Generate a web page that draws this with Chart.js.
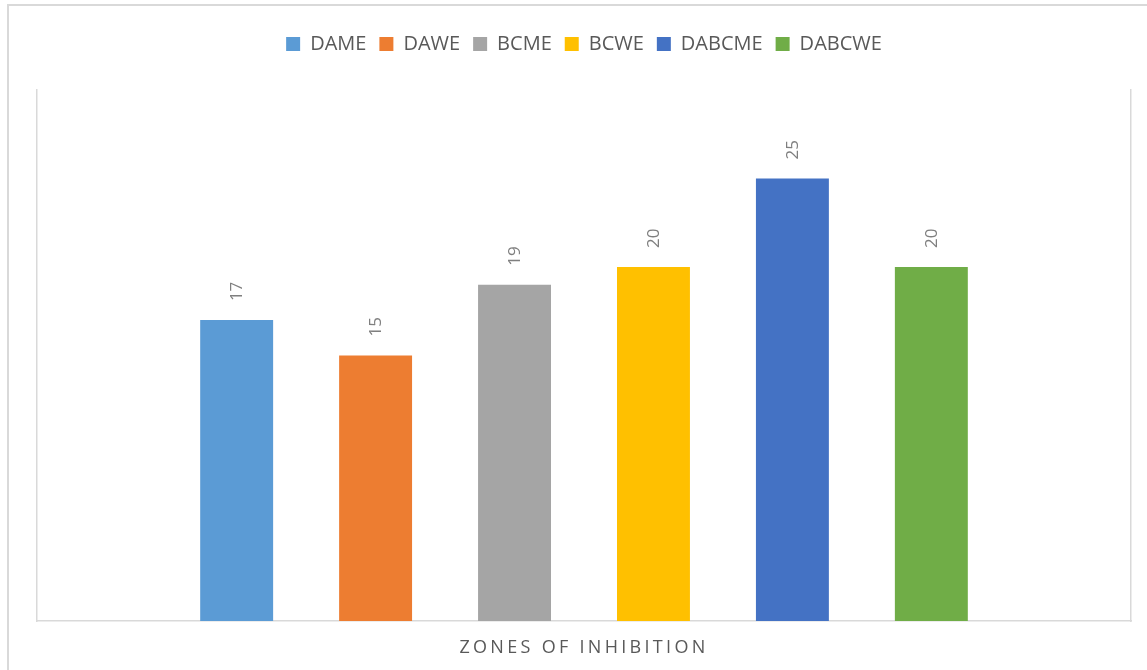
<!DOCTYPE html>
<html>
<head>
<meta charset="utf-8">
<script src="https://cdn.jsdelivr.net/npm/chart.js@4.4.0/dist/chart.umd.min.js"></script>
<style>
    body { margin: 0; background: #ffffff; overflow: hidden; }
    #frame { position: absolute; left: 7px; top: 4px; width: 1170px; height: 700px; border: 2px solid #d9d9d9; }
    #zones { position: absolute; left: 0; top: 0; }
</style>
</head>
<body>
<div id="frame"></div>
<canvas id="zones" width="1147" height="670"></canvas>
<script>
const categories = ['ZONES OF INHIBITION'];
const seriesNames = ['DAME', 'DAWE', 'BCME', 'BCWE', 'DABCME', 'DABCWE'];
const seriesValues = [17, 15, 19, 20, 25, 20];
const seriesColors = ['#5b9bd5', '#ed7d31', '#a5a5a5', '#ffc000', '#4472c4', '#70ad47'];

const textFont = "'Open Sans', 'Noto Sans', sans-serif";

// one dataset per extract, each with a single value
const datasets = seriesNames.map((name, i) => ({
    label: name,
    data: [seriesValues[i]],
    backgroundColor: seriesColors[i],
    borderWidth: 0,
    categoryPercentage: 0.762,
    barPercentage: 0.525
}));

// push the plot area down under the legend
const legendGap = {
    id: 'legendGap',
    beforeInit(chart) {
        const fit = chart.legend.fit;
        chart.legend.fit = function () {
            fit.bind(chart.legend)();
            this.height += 26;
        };
    }
};

// rotated value labels above each bar
const barLabels = {
    id: 'barLabels',
    afterDatasetsDraw(chart) {
        const ctx = chart.ctx;
        ctx.save();
        ctx.font = '17px ' + textFont;
        ctx.fillStyle = '#7f7f7f';
        ctx.textAlign = 'left';
        ctx.textBaseline = 'middle';
        chart.data.datasets.forEach((ds, i) => {
            const bar = chart.getDatasetMeta(i).data[0];
            ctx.save();
            ctx.translate(bar.x, bar.y - 19);
            ctx.rotate(-Math.PI / 2);
            ctx.fillText(String(ds.data[0]), 0, 1);
            ctx.restore();
        });
        ctx.restore();
    }
};

// category name under the axis, spaced out like the original
const categoryLabel = {
    id: 'categoryLabel',
    afterDraw(chart) {
        const ctx = chart.ctx;
        const xScale = chart.scales.x;
        ctx.save();
        ctx.font = '18px ' + textFont;
        ctx.fillStyle = '#595959';
        ctx.letterSpacing = '3.3px';
        ctx.textAlign = 'center';
        ctx.textBaseline = 'middle';
        categories.forEach((c, i) => {
            ctx.fillText(c, xScale.getPixelForValue(i), chart.chartArea.bottom + 27);
        });
        ctx.restore();
    }
};

new Chart(document.getElementById('zones'), {
    type: 'bar',
    data: {
        labels: categories,
        datasets: datasets
    },
    options: {
        responsive: false,
        animation: false,
        layout: {
            padding: { left: 29, right: 8, top: 21, bottom: 41 }
        },
        plugins: {
            legend: {
                position: 'top',
                labels: {
                    boxWidth: 14,
                    boxHeight: 14,
                    padding: 13,
                    color: '#595959',
                    font: { family: textFont, size: 20 }
                }
            },
            tooltip: { enabled: false }
        },
        scales: {
            x: {
                grid: { display: false },
                ticks: { display: false },
                border: { display: true, color: '#d9d9d9', width: 1.5 }
            },
            y: {
                min: 0,
                max: 30,
                grid: { display: false },
                ticks: { display: false },
                border: { display: true, color: '#d9d9d9', width: 1.5 }
            },
            yRight: {
                position: 'right',
                min: 0,
                max: 30,
                grid: { display: false },
                ticks: { display: false },
                border: { display: true, color: '#d9d9d9', width: 1.5 }
            }
        }
    },
    plugins: [legendGap, barLabels, categoryLabel]
});
</script>
</body>
</html>
